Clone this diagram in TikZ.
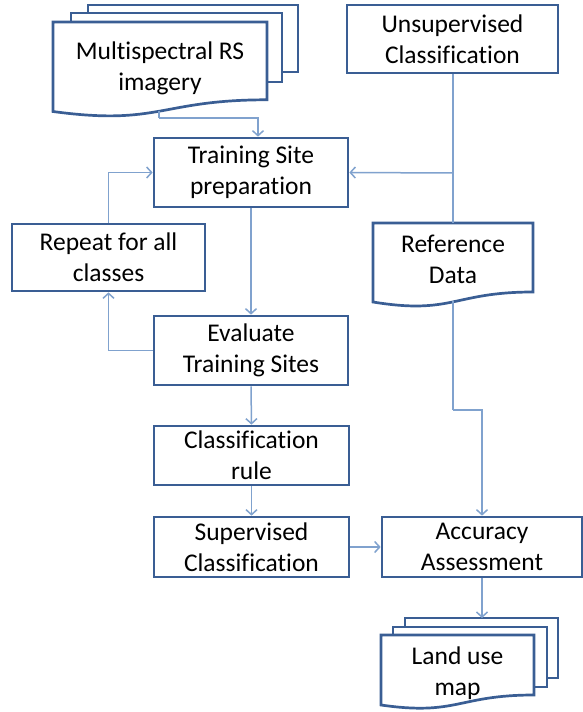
\documentclass[tikz,border=0pt]{standalone}
\usepackage{fontspec}
\setmainfont[Ligatures=NoCommon]{Carlito}
\usetikzlibrary{arrows.meta}
\definecolor{boxline}{RGB}{58,94,148}
\definecolor{linkline}{RGB}{128,162,206}
\begin{document}
\begin{tikzpicture}[x=1pt,y=-1pt,
  lbl/.style={font=\fontsize{25.5}{31}\selectfont, align=center, text=black},
  procbox/.style={draw=boxline, line width=2.7pt, fill=white, inner sep=0pt, lbl},
  docpage/.style={draw=boxline, line width=2.7pt, fill=white, line join=miter},
  link/.style={draw=linkline, line width=1.5pt},
  flow/.style={link, -{Straight Barb[length=5pt,width=11pt,line width=1.5pt]}}]

\useasboundingbox[fill=white] (0,0) rectangle (582,712);

% --- Multispectral imagery: stacked document shape ---
\path[docpage] (88,5) rectangle (298,72);
\path[docpage] (71,13) rectangle (282,82);
\path[docpage] (53,22) -- (267,22) -- (267,99.8)
  .. controls (160,99.8) and (160,126) .. (53,111.5) -- cycle;
\node[lbl] (multi) at (160,68) {Multispectral RS\\imagery};
\coordinate (multibottom) at (159,110.5);
\coordinate (multibend) at (159,118);

% --- Unsupervised classification ---
\node[procbox, minimum width=211pt, minimum height=68pt] (unsup) at (452.5,39)
  {Unsupervised\\Classification};

% --- Reference data: single document shape ---
\path[docpage] (373,223) -- (533,223) -- (533,292)
  .. controls (453,292) and (453,315) .. (373,302) -- cycle;
\node[lbl] (ref) at (453,259) {Reference\\Data};
\coordinate (reftop) at (453,223);
\coordinate (refbottom) at (453,301);
\coordinate (refbend) at (453,410);
\coordinate (unsupjoin) at (453,173);

% --- Supervised chain ---
\node[procbox, minimum width=194pt, minimum height=69pt] (train) at (251,172.5)
  {Training Site\\preparation};
\node[procbox, minimum width=193pt, minimum height=67pt] (repeat) at (108.5,257.5)
  {Repeat for all\\classes};
\node[procbox, minimum width=194pt, minimum height=69pt] (eval) at (251,350.5)
  {Evaluate\\Training Sites};
\node[procbox, minimum width=195pt, minimum height=59pt] (rule) at (251.5,455.5)
  {Classification\\rule};
\node[procbox, minimum width=195pt, minimum height=60pt] (sup) at (251.5,547)
  {Supervised\\Classification};
\node[procbox, minimum width=200pt, minimum height=60pt] (acc) at (482,547)
  {Accuracy\\Assessment};

% --- Land use map: stacked document shape ---
\path[docpage] (405,618) rectangle (558,678);
\path[docpage] (393,627) rectangle (547,687);
\path[docpage] (381,635) -- (534,635) -- (534,695)
  .. controls (457.5,695) and (457.5,716) .. (381,705) -- cycle;
\node[lbl] (land) at (457.5,673) {Land use\\map};
\coordinate (landtop) at (482,618);

% --- Connectors ---
\draw[link] (multibottom) -- (multibend);
\draw[flow] (multibend) -| ([xshift=7pt]train.north);
\draw[link] (unsup.south -| reftop) -- (reftop);
\draw[flow] (unsupjoin) -- (train.east);
\draw[link] (refbottom) -- (refbend);
\draw[flow] (refbend) -| (acc.north);
\draw[flow] (train.south) -- (eval.north);
\draw[flow] (eval.west) -| (repeat.south);
\draw[flow] (repeat.north) |- (train.west);
\draw[flow] (eval.south) -- (rule.north);
\draw[flow] (rule.south) -- (sup.north);
\draw[flow] (sup.east) -- (acc.west);
\draw[flow] (acc.south) -- (landtop);
\end{tikzpicture}
\end{document}
